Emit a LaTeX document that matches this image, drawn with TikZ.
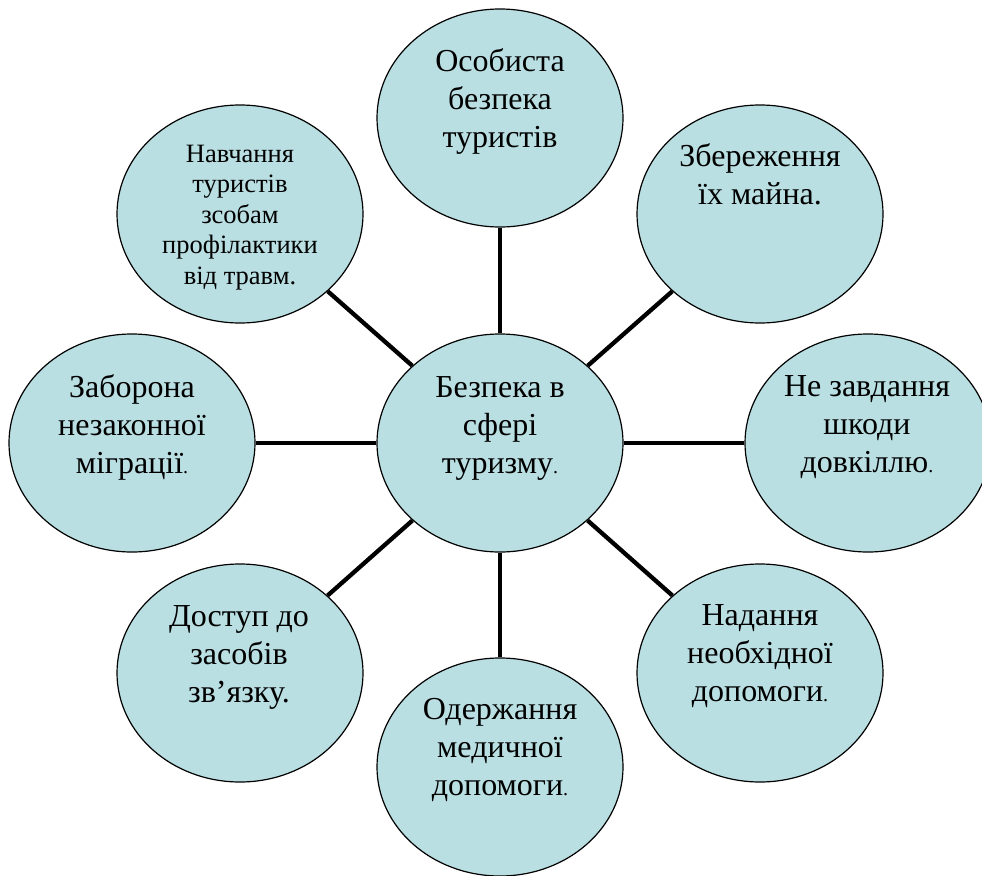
\documentclass[tikz,border=0pt]{standalone}
\usepackage{fontspec}
\setmainfont{Liberation Serif}
\usetikzlibrary{shapes.geometric}
\definecolor{bubfill}{RGB}{185,223,227}
\tikzset{
  bub/.style={ellipse, draw=black, line width=1.2pt, fill=bubfill,
    minimum width=246pt, minimum height=218pt, inner sep=0pt},
  conn/.style={draw=black, line width=4.3pt},
  lbl/.style={anchor=north, inner sep=0pt, align=center, text=black,
    font=\fontsize{32}{38}\selectfont},
  lblsmall/.style={anchor=north, inner sep=0pt, align=center, text=black,
    font=\fontsize{26.5}{30.5}\selectfont}
}
\newcommand{\fst}{\rule{0pt}{30pt}}
\newcommand{\fsts}{\rule{0pt}{25pt}}
\newcommand{\sdot}{{\fontsize{20}{38}\selectfont.}}
\begin{document}
\begin{tikzpicture}[x=1pt,y=-1pt]
\useasboundingbox (0,0) rectangle (982,875);
% ellipses
\node[bub] (top) at (500,118) {};
\node[bub] (tr) at (760,214) {};
\node[bub] (r) at (868,443) {};
\node[bub] (br) at (760,673) {};
\node[bub] (b) at (500,767) {};
\node[bub] (bl) at (240,673) {};
\node[bub] (l) at (132,443) {};
\node[bub] (tl) at (240,214) {};
\node[bub] (c) at (500,443) {};
% connectors
\draw[conn] (c) -- (top);
\draw[conn] (c) -- (tr);
\draw[conn] (c) -- (r);
\draw[conn] (c) -- (br);
\draw[conn] (c) -- (b);
\draw[conn] (c) -- (bl);
\draw[conn] (c) -- (l);
\draw[conn] (c) -- (tl);
% texts (north anchor = first baseline - strut height)
\node[lbl] (ttop) at (500,41) {\fst Особиста\\безпека\\туристів};
\node[lbl] (ttr) at (760,136) {\fst Збереження\\їх майна.};
\node[lbl] (tr2) at (867,366) {\fst Не завдання\\шкоди\\довкіллю\sdot};
\node[lbl] (tc) at (500,367) {\fst Безпека в\\сфері\\туризму\sdot};
\node[lbl] (tl2) at (132,367) {\fst Заборона\\незаконної\\міграції\sdot};
\node[lblsmall] (ttl) at (240,137) {\fsts Навчання\\туристів\\зсобам\\профілактики\\від травм.};
\node[lbl] (tbl) at (239,596) {\fst Доступ до\\засобів\\зв’язку.};
\node[lbl] (tb) at (500,689) {\fst Одержання\\медичної\\допомоги\sdot};
\node[lbl] (tbr) at (760,595) {\fst Надання\\необхідної\\допомоги\sdot};
\end{tikzpicture}
\end{document}
